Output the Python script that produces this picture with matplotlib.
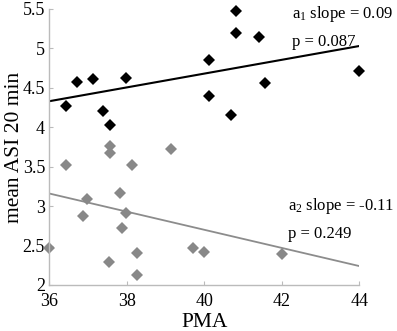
import matplotlib.pyplot as plt

# a1 group (black diamonds)
a1_pma = [36.43, 36.71, 37.12, 37.40, 37.56, 37.97, 40.12, 40.12, 40.68,
          40.82, 40.82, 41.41, 41.56, 43.98]
a1_asi = [4.27, 4.57, 4.61, 4.20, 4.03, 4.62, 4.85, 4.40, 4.15,
          5.48, 5.19, 5.14, 4.56, 4.71]

# a2 group (gray diamonds)
a2_pma = [36.43, 37.57, 37.57, 38.13, 39.13, 37.83, 36.98, 36.87, 37.98,
          37.87, 36.00, 38.27, 37.55, 38.27, 39.72, 39.99, 42.00]
a2_asi = [3.52, 3.76, 3.67, 3.52, 3.73, 3.16, 3.09, 2.88, 2.91,
          2.72, 2.47, 2.41, 2.29, 2.13, 2.47, 2.42, 2.39]

# fitted lines (end points)
fit_x = [36, 44]
a1_fit = [4.33, 5.03]
a2_fit = [3.16, 2.24]

xticks = [36, 38, 40, 42, 44]
yticks = [2, 2.5, 3, 3.5, 4, 4.5, 5, 5.5]
ytick_labels = ["2", "2.5", "3", "3.5", "4", "4.5", "5", "5.5"]

plt.rcParams["font.family"] = ["Liberation Serif", "DejaVu Serif"]
plt.rcParams["mathtext.fontset"] = "custom"
plt.rcParams["mathtext.rm"] = "Liberation Serif"
plt.rcParams["mathtext.it"] = "Liberation Serif"

fig = plt.figure(figsize=(3.97, 3.31), dpi=100)
ax = fig.add_axes([0.124, 0.139, 0.781, 0.834])

ax.plot(fit_x, a1_fit, color="black", lw=1.5)
ax.plot(fit_x, a2_fit, color="#8c8c8c", lw=1.3)
ax.plot(a1_pma, a1_asi, "D", color="black", ms=6.5, mew=0, clip_on=False)
ax.plot(a2_pma, a2_asi, "D", color="#888888", ms=6.5, mew=0, clip_on=False)

ax.set_xlim(36, 44)
ax.set_ylim(2, 5.5)
ax.set_xticks(xticks)
ax.set_yticks(yticks)
ax.set_yticklabels(ytick_labels)
ax.tick_params(direction="in", length=3, color="#bbbbbb", labelsize=13)
ax.tick_params(axis="x", pad=6)
ax.tick_params(axis="y", pad=3)
for s in ["top", "right"]:
    ax.spines[s].set_visible(False)
for s in ["left", "bottom"]:
    ax.spines[s].set_color("#bbbbbb")
    ax.spines[s].set_linewidth(1)

ax.set_xlabel("PMA", fontsize=15.5, va="center")
ax.set_ylabel("mean ASI 20 min", fontsize=15.5, va="center")
ax.xaxis.set_label_coords(0.5, -0.135)
ax.yaxis.set_label_coords(-0.112, 0.5)

ax.text(42.26, 5.43, r"a$_1$ slope = 0.09", fontsize=12, va="center")
ax.text(42.26, 5.08, "p = 0.087", fontsize=12, va="center")
ax.text(42.16, 3.0, r"a$_2$ slope = -0.11", fontsize=12, va="center")
ax.text(42.16, 2.65, "p = 0.249", fontsize=12, va="center")

fig.savefig("out.png", dpi=100)
